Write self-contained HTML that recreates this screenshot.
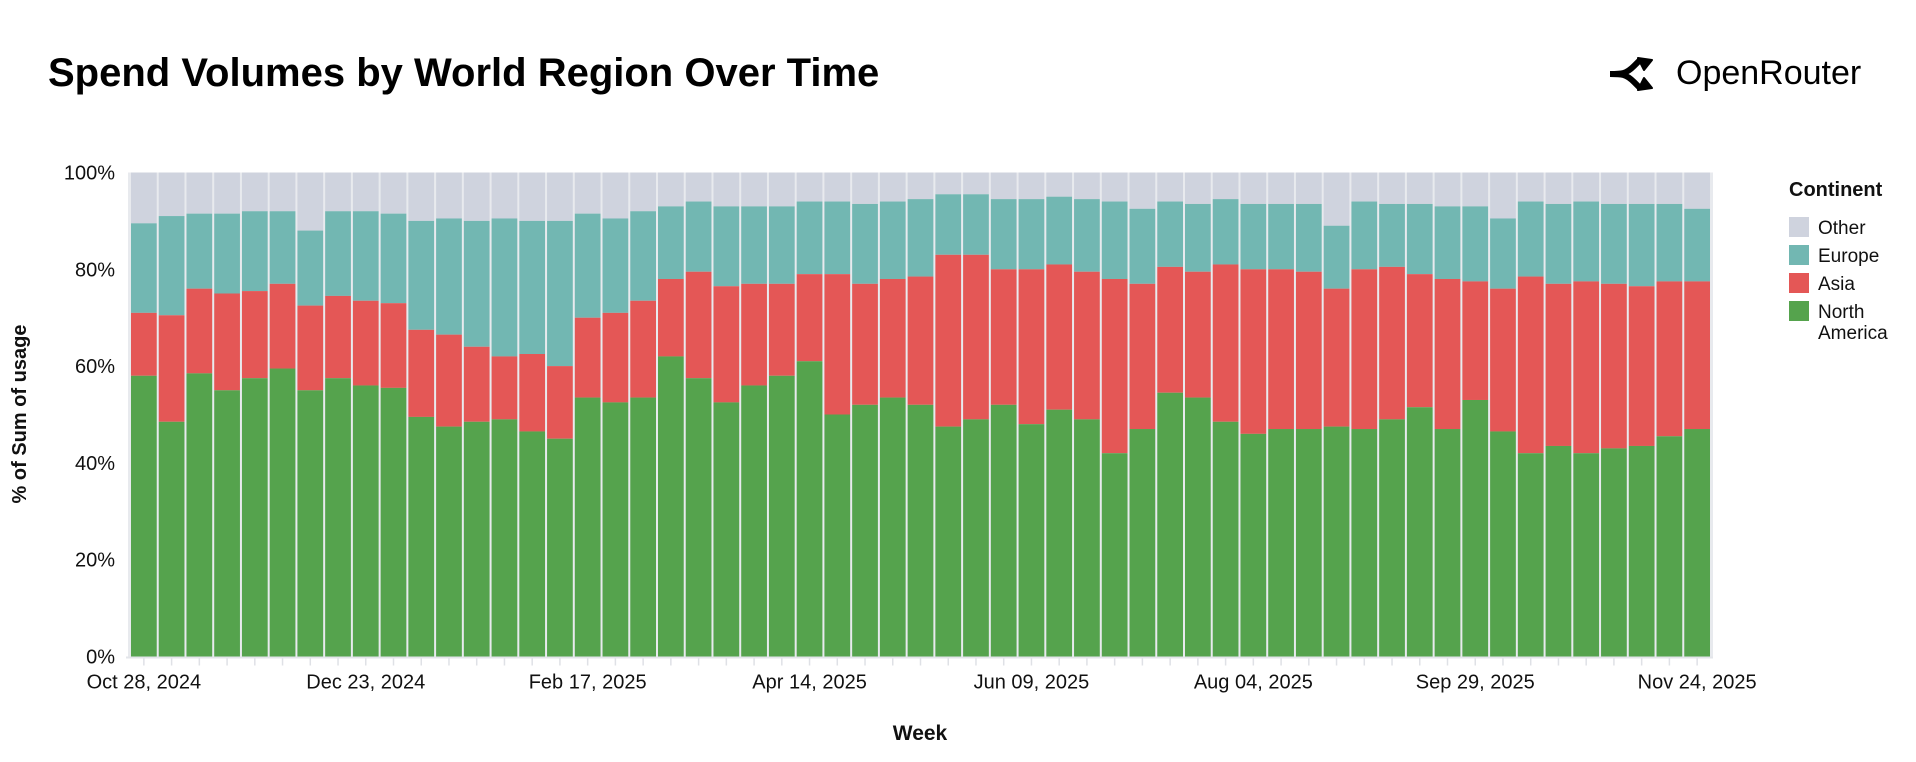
<!DOCTYPE html>
<html><head><meta charset="utf-8"><style>
html,body{margin:0;padding:0;background:#fff;}
svg{display:block;font-family:"Liberation Sans",sans-serif;}
</style></head><body>
<svg id="c" width="1916" height="762" viewBox="0 0 1916 762" xmlns="http://www.w3.org/2000/svg">
<text x="48" y="86" font-size="40" font-weight="bold" fill="#000">Spend Volumes by World Region Over Time</text>
<g transform="translate(1608,56)" fill="none" stroke="#000" stroke-width="6" stroke-linejoin="round">
<path d="M2 18 C14 18 18 18 26 10 L32 4"/><path d="M2 18 C14 18 18 18 26 26 L32 32"/>
<path d="M30 2 L44 4 L36 14 Z" fill="#000" stroke-width="2"/><path d="M30 34 L44 32 L36 22 Z" fill="#000" stroke-width="2"/>
</g>
<text x="1676" y="84" font-size="34" fill="#000">OpenRouter</text>
<g id="grid"></g>
<g id="bars"></g>
<g id="axes"></g>
<text transform="translate(26,414) rotate(-90)" text-anchor="middle" font-size="20" font-weight="bold" fill="#111">% of Sum of usage</text>
<text x="920" y="740" text-anchor="middle" font-size="21" font-weight="bold" fill="#111">Week</text>
<text x="1789" y="196" font-size="20" font-weight="bold" fill="#111">Continent</text>
<rect x="1789" y="217" width="20" height="20" fill="#cfd3de"/><text x="1818" y="234" font-size="19" fill="#111">Other</text>
<rect x="1789" y="245" width="20" height="20" fill="#72b7b2"/><text x="1818" y="262" font-size="19" fill="#111">Europe</text>
<rect x="1789" y="273" width="20" height="20" fill="#e45756"/><text x="1818" y="290" font-size="19" fill="#111">Asia</text>
<rect x="1789" y="301" width="20" height="20" fill="#55a34d"/><text x="1818" y="318" font-size="19" fill="#111">North</text><text x="1818" y="339" font-size="19" fill="#111">America</text>
</svg>
<script>
var d=[[58,71,89.5],[48.5,70.5,91],[58.5,76,91.5],[55,75,91.5],[57.5,75.5,92],[59.5,77,92],[55,72.5,88],[57.5,74.5,92],[56,73.5,92],[55.5,73,91.5],[49.5,67.5,90],[47.5,66.5,90.5],[48.5,64,90],[49,62,90.5],[46.5,62.5,90],[45,60,90],[53.5,70,91.5],[52.5,71,90.5],[53.5,73.5,92],[62,78,93],[57.5,79.5,94],[52.5,76.5,93],[56,77,93],[58,77,93],[61,79,94],[50,79,94],[52,77,93.5],[53.5,78,94],[52,78.5,94.5],[47.5,83,95.5],[49,83,95.5],[52,80,94.5],[48,80,94.5],[51,81,95],[49,79.5,94.5],[42,78,94],[47,77,92.5],[54.5,80.5,94],[53.5,79.5,93.5],[48.5,81,94.5],[46,80,93.5],[47,80,93.5],[47,79.5,93.5],[47.5,76,89],[47,80,94],[49,80.5,93.5],[51.5,79,93.5],[47,78,93],[53,77.5,93],[46.5,76,90.5],[42,78.5,94],[43.5,77,93.5],[42,77.5,94],[43,77,93.5],[43.5,76.5,93.5],[45.5,77.5,93.5],[47,77.5,92.5]];
var NS="http://www.w3.org/2000/svg";
function el(g,t,a,txt){var e=document.createElementNS(NS,t);for(var k in a)e.setAttribute(k,a[k]);if(txt)e.textContent=txt;document.getElementById(g).appendChild(e);return e;}
var L=130,R=1711,T=172.5,B=656.5,H=B-T,step=(R-L)/57;
function y(p){return B-p/100*H;}
el('grid','rect',{x:L-2,y:T,width:R-L+4,height:H,fill:'#e8eaee'});
for(var i=0;i<57;i++){var x=L+i*step+1,w=step-2,v=d[i];
el('bars','rect',{x:x,y:y(100),width:w,height:y(v[2])-y(100),fill:'#cfd3de'});
el('bars','rect',{x:x,y:y(v[2]),width:w,height:y(v[1])-y(v[2]),fill:'#72b7b2'});
el('bars','rect',{x:x,y:y(v[1]),width:w,height:y(v[0])-y(v[1]),fill:'#e45756'});
el('bars','rect',{x:x,y:y(v[0]),width:w,height:B-y(v[0]),fill:'#55a34d'});
el('axes','line',{x1:x+w/2,x2:x+w/2,y1:B+1,y2:B+9,stroke:'#dfe1e6','stroke-width':1.5});
}
el('axes','line',{x1:L-4,x2:R+2,y1:B+1,y2:B+1,stroke:'#e3e5ea','stroke-width':2});
for(var p=0;p<=100;p+=20){el('axes','text',{x:115,y:y(p)+7,'text-anchor':'end','font-size':20,fill:'#111'},p+'%');}
var labs=['Oct 28, 2024','Dec 23, 2024','Feb 17, 2025','Apr 14, 2025','Jun 09, 2025','Aug 04, 2025','Sep 29, 2025','Nov 24, 2025'];
for(var j=0;j<8;j++){var c=L+j*8*step+step/2;el('axes','text',{x:c,y:B+32,'text-anchor':'middle','font-size':20,fill:'#111'},labs[j]);}
</script>
</body></html>
